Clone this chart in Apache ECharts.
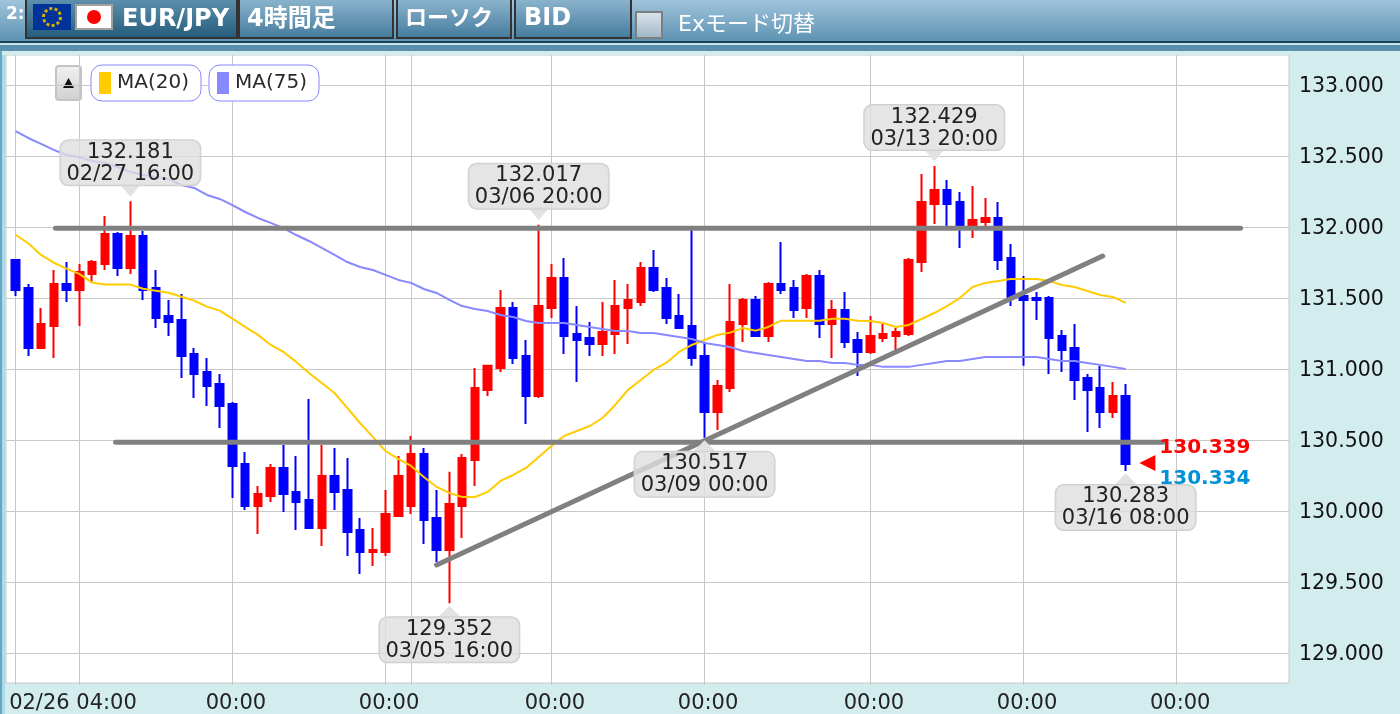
<!DOCTYPE html>
<html>
<head>
<meta charset="utf-8">
<style>html,body{margin:0;padding:0;background:#d3edef;overflow:hidden}#c{width:1400px;height:714px}</style>
<script src="https://cdn.jsdelivr.net/npm/echarts@6/dist/echarts.min.js"></script>
</head>
<body>
<div id="c"></div>
<script>
const opens = [131.768,131.571,131.149,131.304,131.600,131.557,131.670,131.740,131.951,131.712,131.937,131.571,131.374,131.346,131.107,130.980,130.896,130.755,130.333,130.037,130.107,130.305,130.136,130.079,129.882,130.248,130.150,129.868,129.713,129.713,129.967,130.037,130.403,129.953,129.727,130.037,130.361,130.854,131.008,131.430,131.093,130.811,131.430,131.642,131.247,131.219,131.177,131.247,131.430,131.473,131.712,131.571,131.374,131.304,131.093,130.699,130.868,131.318,131.487,131.233,131.600,131.571,131.430,131.656,131.318,131.416,131.205,131.121,131.219,131.233,131.247,131.754,132.163,132.261,132.177,131.994,132.036,132.064,131.782,131.515,131.501,131.501,131.233,131.149,130.938,130.868,130.699,130.811];
const closes = [131.557,131.149,131.318,131.600,131.557,131.684,131.754,131.951,131.712,131.937,131.557,131.360,131.332,131.093,130.966,130.882,130.741,130.319,130.037,130.122,130.305,130.122,130.065,129.882,130.248,130.136,129.854,129.713,129.727,129.981,130.248,130.403,129.939,129.727,130.051,130.375,130.868,131.023,131.430,131.079,130.811,131.444,131.642,131.233,131.205,131.177,131.261,131.444,131.487,131.712,131.557,131.360,131.290,131.079,130.699,130.882,131.332,131.487,131.233,131.600,131.557,131.416,131.656,131.318,131.416,131.191,131.121,131.233,131.247,131.261,131.768,132.177,132.261,132.163,132.001,132.050,132.064,131.768,131.501,131.487,131.487,131.219,131.135,130.924,130.854,130.699,130.811,130.333];
const lows = [131.515,131.093,131.149,131.079,131.473,131.304,131.614,131.698,131.656,131.670,131.487,131.290,131.233,130.938,130.797,130.741,130.586,130.093,130.009,129.840,130.065,129.995,129.868,129.882,129.755,130.009,129.685,129.559,129.615,129.685,129.967,129.981,129.770,129.643,129.352,129.812,130.178,130.811,130.980,131.037,130.614,130.797,131.360,131.107,130.910,131.093,131.093,131.107,131.177,131.444,131.543,131.318,131.290,131.023,130.517,130.572,130.840,131.191,131.233,131.191,131.529,131.360,131.360,131.219,131.079,131.149,130.952,131.107,131.191,131.135,131.233,131.684,132.022,132.008,131.853,131.923,132.008,131.698,131.444,131.023,131.346,130.966,130.980,130.783,130.558,130.586,130.656,130.283];
const highs = [131.775,131.600,131.430,131.698,131.754,131.740,131.768,132.078,131.965,132.181,131.972,131.698,131.487,131.529,131.149,131.079,130.966,130.769,130.417,130.178,130.333,130.466,130.389,130.790,130.466,130.445,130.375,129.953,129.882,130.150,130.389,130.530,130.445,130.150,130.277,130.403,131.008,131.023,131.557,131.473,131.205,132.017,131.740,131.782,131.444,131.332,131.473,131.628,131.600,131.754,131.839,131.642,131.529,131.979,131.191,130.924,131.600,131.501,131.515,131.614,131.895,131.628,131.670,131.698,131.487,131.543,131.261,131.374,131.318,131.290,131.782,132.374,132.429,132.331,132.247,132.289,132.205,132.177,131.881,131.656,131.543,131.515,131.276,131.318,130.966,131.023,130.910,130.896];
const ma20 = [131.946,131.886,131.804,131.749,131.707,131.670,131.609,131.595,131.595,131.595,131.566,131.552,131.538,131.510,131.482,131.440,131.412,131.355,131.297,131.241,131.170,131.121,131.051,130.973,130.903,130.832,130.727,130.621,130.523,130.424,130.368,130.319,130.241,130.171,130.129,130.100,130.100,130.136,130.213,130.255,130.305,130.382,130.459,130.530,130.565,130.600,130.656,130.748,130.854,130.924,130.994,131.044,131.121,131.170,131.205,131.241,131.257,131.290,131.271,131.297,131.341,131.341,131.341,131.341,131.355,131.355,131.341,131.339,131.325,131.297,131.311,131.353,131.395,131.444,131.501,131.578,131.607,131.621,131.635,131.635,131.635,131.621,131.592,131.578,131.550,131.522,131.508,131.466];
const ma75 = [132.676,132.627,132.585,132.543,132.507,132.493,132.465,132.451,132.423,132.388,132.367,132.352,132.338,132.296,132.275,132.226,132.198,132.155,132.106,132.064,132.029,131.993,131.944,131.902,131.853,131.804,131.754,131.719,131.698,131.663,131.628,131.607,131.564,131.536,131.487,131.444,131.423,131.409,131.381,131.367,131.339,131.325,131.325,131.325,131.311,131.297,131.283,131.269,131.269,131.255,131.255,131.241,131.226,131.212,131.184,131.170,131.156,131.128,131.114,131.100,131.086,131.072,131.058,131.058,131.044,131.044,131.030,131.030,131.016,131.016,131.016,131.030,131.044,131.058,131.058,131.072,131.086,131.086,131.086,131.086,131.086,131.072,131.058,131.058,131.044,131.030,131.016,131.001];

const yTicks = [129,129.5,130,130.5,131,131.5,132,132.5,133];
const yLabelPos = [128.988,129.488,129.988,130.488,130.988,131.488,131.988,132.488,132.988];
const yLabelText = ['129.000','129.500','130.000','130.500','131.000','131.500','132.000','132.500','133.000'];
const xGridIndex = [0,5,17,29,31,42,54,67,79,91];
const xLabelIndex = [4.23,17,29,42,54,67,79,91];
const xLabelText = ['02/26 04:00','00:00','00:00','00:00','00:00','00:00','00:00','00:00'];

const trendLines = [
  [[3.13,131.991],[96,131.991]],
  [[7.84,130.486],[89.9,130.486]],
  [[33,129.622],[85.2,131.796]]
];
const callIdxUp = [9,41,72];
const callPriceUp = [132.181,132.017,132.429];
const callTextUp = ['132.181\n02/27 16:00','132.017\n03/06 20:00','132.429\n03/13 20:00'];
const callIdxDown = [34,54,87];
const callPriceDown = [129.352,130.517,130.283];
const callTextDown = ['129.352\n03/05 16:00','130.517\n03/09 00:00','130.283\n03/16 08:00'];
const askPrice = 130.339, bidPrice = 130.334, priceIdx = 88.7;

const FONT = '"DejaVu Sans","Noto Sans CJK JP",sans-serif';
const candleRows = opens.map((o,i)=>[i,o,closes[i],lows[i],highs[i]]);
const withIndex = a => a.map((v,i)=>[i,v]);

const boxLabel = {
  show:true, fontFamily:FONT, fontSize:21, lineHeight:22, color:'#222222', align:'center',
  backgroundColor:'rgba(222,222,222,0.8)', borderColor:'#cfcfcf', borderWidth:1, borderRadius:8,
  width:128, padding:[1,6,0,6]
};
const grad=(a,b,c)=>({type:'linear',x:0,y:0,x2:0,y2:1,colorStops:c||[{offset:0,color:a},{offset:1,color:b}]});
const btn=(x,w,dark)=>({type:'rect',shape:{x:x+1,y:-2,width:w,height:40},
  style:{fill:dark?grad('#5f93b0','#245a7a'):grad('#8fb7cf','#447a9c'),stroke:'#333333',lineWidth:2}});
const txt=(x,y,t,size,weight,color)=>({type:'text',x,y,style:{text:t,fontFamily:FONT,fontSize:size,fontWeight:weight||'normal',fill:color||'#ffffff',textVerticalAlign:'middle',verticalAlign:'middle'}});

const graphic = [
  {type:'rect',shape:{x:0,y:0,width:1400,height:41},style:{fill:grad('#a0c4da','#5d93b3')},z:-1},
  {type:'rect',shape:{x:0,y:41,width:1400,height:2},style:{fill:'#1e4257'}},
  {type:'rect',shape:{x:0,y:43,width:1400,height:2},style:{fill:'#c6e4f2'}},
  {type:'rect',shape:{x:0,y:45,width:1400,height:6},style:{fill:'#5b8fae'}},
  {type:'rect',shape:{x:0,y:51,width:1400,height:4},style:{fill:'#d3edef'}},
  {type:'rect',shape:{x:0,y:51,width:2,height:663},style:{fill:'#6aa6c4'}},
  {type:'rect',shape:{x:2,y:55,width:3,height:659},style:{fill:'#a9dbe8'}},
  txt(6,15,'2:',17,'bold'),
  btn(25,211,true),
  {type:'rect',shape:{x:33,y:4,width:38,height:26},style:{fill:'#003399'}},
  {type:'circle',shape:{cx:52,cy:17,r:8.5},style:{fill:'none',stroke:'#d8b000',lineWidth:3,lineDash:[3,2.3]}},
  {type:'rect',shape:{x:76,y:5,width:36,height:24},style:{fill:'#ffffff',stroke:'#a0a0a0',lineWidth:2}},
  {type:'circle',shape:{cx:94,cy:17,r:7},style:{fill:'#ff0000'}},
  txt(122,20,'EUR/JPY',24,'bold'),
  btn(238,154),
  txt(247,20,'4時間足',24,'bold'),
  btn(396,114),
  txt(405,19,'ローソク',22,'bold'),
  btn(514,116),
  txt(524,19,'BID',24,'bold'),
  {type:'rect',shape:{x:636,y:12,width:26,height:26},style:{fill:grad('#dde8ee','#9db5c3'),stroke:'#7a7f83',lineWidth:2}},
  txt(678,25,'Exモード切替',22),
  {type:'rect',shape:{x:56,y:66,width:25,height:34,r:3},style:{fill:grad('#f2f2f2','#cfcfcf'),stroke:'#c4c4c4',lineWidth:2}},
  {type:'polygon',shape:{points:[[68.5,78],[74,88],[63,88]]},style:{fill:'#111111'}}
];

const legendBase = {top:65,icon:'rect',itemWidth:12,itemHeight:22,itemGap:0,
  backgroundColor:'#ffffff',borderColor:'#8888ff',borderWidth:1,borderRadius:11,padding:[7,12,7,8],
  textStyle:{fontFamily:FONT,fontSize:20,color:'#2a2a2a',padding:[14,0,0,1]},selectedMode:false};

const option = {
  animation:false,
  backgroundColor:'#d3edef',
  textStyle:{fontFamily:FONT},
  graphic,
  legend:[
    Object.assign({},legendBase,{left:91,data:['MA(20)']}),
    Object.assign({},legendBase,{left:209,data:['MA(75)']})
  ],
  grid:{left:6,top:55,width:1283,height:628,outerBoundsMode:'none',show:true,backgroundColor:'#ffffff',borderColor:'#c8c8c8',borderWidth:1},
  xAxis:{
    type:'value',min:-0.745,max:99.8,
    axisLine:{show:false},
    axisTick:{show:true,length:2,lineStyle:{color:'#c8c8c8'},customValues:xGridIndex},
    splitLine:{show:true,lineStyle:{color:'#c8c8c8',width:1}},
    axisLabel:{
      customValues:xLabelIndex,margin:10,fontFamily:FONT,fontSize:21,color:'#222222',padding:[0,0,0,7],
      formatter:v=>xLabelText[xLabelIndex.indexOf(v)]
    }
  },
  yAxis:{
    type:'value',position:'right',min:128.791,max:133.211,
    axisLine:{show:false},
    axisTick:{show:true,length:2,lineStyle:{color:'#c8c8c8'},customValues:yTicks},
    splitLine:{show:true,lineStyle:{color:'#c8c8c8',width:1}},
    axisLabel:{customValues:yLabelPos,margin:10,fontFamily:FONT,fontSize:20.5,color:'#111111',formatter:v=>yLabelText[yLabelPos.indexOf(v)]}
  },
  series:[
    {type:'candlestick',name:'EUR/JPY',data:candleRows,barWidth:8,silent:true,z:3,
      itemStyle:{color:'#ff0000',color0:'#0000ff',borderColor:'#ff0000',borderColor0:'#0000ff',borderWidth:2}},
    {type:'line',name:'MA(20)',data:withIndex(ma20),showSymbol:false,silent:true,z:4,
      itemStyle:{color:'#ffcc00'},lineStyle:{color:'#ffcc00',width:2}},
    {type:'line',name:'MA(75)',data:withIndex(ma75),showSymbol:false,silent:true,z:4,
      itemStyle:{color:'#8888ff'},lineStyle:{color:'#8888ff',width:2}},
    ...trendLines.map(d=>({type:'line',data:d,showSymbol:false,silent:true,z:5,
      lineStyle:{color:'#808080',width:5,cap:'round'}})),
    {type:'scatter',silent:true,z:6,symbol:'triangle',symbolSize:[22,13],symbolRotate:180,symbolOffset:[0,-11],
      itemStyle:{color:'#e2e2e2',opacity:1},data:callIdxUp.map((x,i)=>[x,callPriceUp[i]])},
    {type:'scatter',silent:true,z:6,symbol:'triangle',symbolSize:[22,11],symbolOffset:[0,8],
      itemStyle:{color:'#e2e2e2',opacity:1},data:callIdxDown.map((x,i)=>[x,callPriceDown[i]])},
    {type:'scatter',silent:true,z:7,symbolSize:0,itemStyle:{opacity:1},
      label:Object.assign({},boxLabel,{position:'top',distance:16,formatter:p=>callTextUp[p.dataIndex]}),
      data:callIdxUp.map((x,i)=>[x,callPriceUp[i]])},
    {type:'scatter',silent:true,z:7,symbolSize:0,itemStyle:{opacity:1},
      label:Object.assign({},boxLabel,{position:'bottom',distance:14,formatter:p=>callTextDown[p.dataIndex]}),
      data:callIdxDown.map((x,i)=>[x,callPriceDown[i]])},
    {type:'scatter',silent:true,z:8,symbol:'triangle',symbolSize:16,symbolRotate:90,
      itemStyle:{color:'#ff0000',opacity:1},
      label:{show:true,position:'right',distance:4,offset:[0,-15],fontFamily:FONT,fontSize:20,fontWeight:'bold',color:'#ff0000',formatter:v=>v.value[1].toFixed(3)},
      data:[[priceIdx,askPrice]]},
    {type:'scatter',silent:true,z:8,symbolSize:0,itemStyle:{opacity:1},
      label:{show:true,position:'right',distance:12,offset:[0,15],fontFamily:FONT,fontSize:20,fontWeight:'bold',color:'#0090d8',formatter:v=>v.value[1].toFixed(3)},
      data:[[priceIdx,bidPrice]]}
  ]
};
echarts.init(document.getElementById('c'),null,{renderer:'canvas',width:1400,height:714}).setOption(option);
</script>
</body>
</html>
